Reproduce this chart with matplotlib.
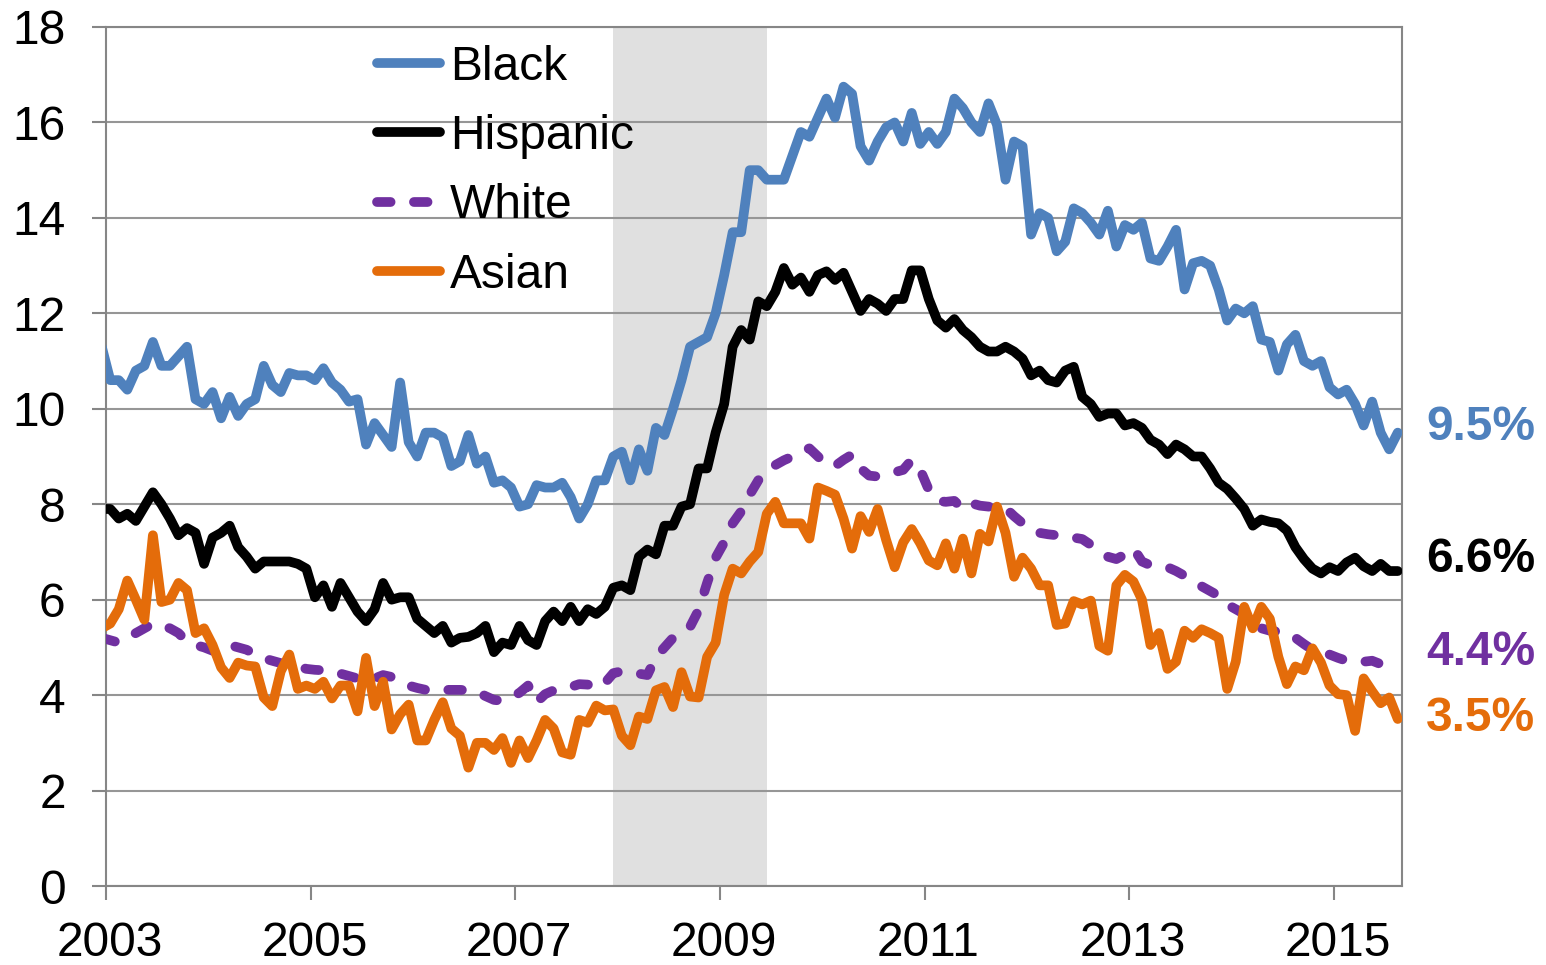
"""
Unemployment rate by race/ethnicity, monthly Dec 2002 - Aug 2015
Recession (Dec 2007 - Jun 2009) shaded
"""

import matplotlib
matplotlib.use('Agg')
import matplotlib.pyplot as plt
import matplotlib.transforms as mtransforms
import numpy as np
import pandas as pd

plt.rcParams['font.family'] = ['Liberation Sans', 'DejaVu Sans']

# Monthly data, Dec 2002 .. Aug 2015
first_month = '2002-12'
last_month = '2015-08'
recession_start = '2007-12'
recession_end = '2009-06'

black = [
    11.3,
    10.6, 10.6, 10.4, 10.8, 10.9, 11.4, 10.9, 10.9, 11.1, 11.3, 10.2, 10.1,
    10.35, 9.8, 10.25, 9.85, 10.1, 10.2, 10.9, 10.5, 10.35, 10.75, 10.7, 10.7,
    10.6, 10.85, 10.55, 10.4, 10.15, 10.2, 9.25, 9.7, 9.45, 9.2, 10.55, 9.3,
    9.0, 9.5, 9.5, 9.4, 8.8, 8.9, 9.45, 8.85, 9.0, 8.45, 8.5, 8.35,
    7.95, 8.0, 8.4, 8.35, 8.35, 8.45, 8.15, 7.7, 8.0, 8.5, 8.5, 9.0,
    9.1, 8.5, 9.15, 8.7, 9.6, 9.45, 10.0, 10.6, 11.3, 11.4, 11.5, 12.0,
    12.8, 13.7, 13.7, 15.0, 15.0, 14.8, 14.8, 14.8, 15.3, 15.8, 15.7, 16.1,
    16.5, 16.1, 16.75, 16.6, 15.5, 15.2, 15.6, 15.9, 16.0, 15.6, 16.2, 15.55,
    15.8, 15.55, 15.8, 16.5, 16.3, 16.0, 15.8, 16.4, 15.95, 14.8, 15.6, 15.5,
    13.65, 14.1, 14.0, 13.3, 13.5, 14.2, 14.1, 13.9, 13.65, 14.15, 13.4, 13.85,
    13.75, 13.9, 13.15, 13.1, 13.4, 13.75, 12.5, 13.05, 13.1, 13.0, 12.5, 11.85,
    12.1, 12.0, 12.15, 11.45, 11.4, 10.8, 11.35, 11.55, 11.0, 10.9, 11.0, 10.45,
    10.3, 10.4, 10.1, 9.65, 10.15, 9.5, 9.15, 9.5,
]

hispanic = [
    7.9,
    7.9, 7.7, 7.8, 7.65, 7.95, 8.25, 8.0, 7.7, 7.35, 7.5, 7.4, 6.75,
    7.3, 7.4, 7.55, 7.1, 6.9, 6.65, 6.8, 6.8, 6.8, 6.8, 6.75, 6.65,
    6.05, 6.3, 5.85, 6.35, 6.05, 5.75, 5.55, 5.8, 6.35, 6.0, 6.05, 6.05,
    5.6, 5.45, 5.3, 5.45, 5.1, 5.2, 5.22, 5.3, 5.45, 4.9, 5.1, 5.05,
    5.45, 5.15, 5.05, 5.55, 5.75, 5.55, 5.85, 5.55, 5.8, 5.7, 5.85, 6.25,
    6.3, 6.2, 6.9, 7.05, 6.95, 7.55, 7.55, 7.95, 8.0, 8.75, 8.75, 9.5,
    10.1, 11.3, 11.65, 11.45, 12.25, 12.15, 12.45, 12.95, 12.6, 12.75, 12.45, 12.8,
    12.88, 12.7, 12.85, 12.45, 12.05, 12.3, 12.2, 12.05, 12.3, 12.3, 12.9, 12.9,
    12.3, 11.85, 11.7, 11.88, 11.65, 11.5, 11.3, 11.2, 11.2, 11.3, 11.2, 11.05,
    10.7, 10.8, 10.6, 10.55, 10.8, 10.88, 10.25, 10.1, 9.83, 9.9, 9.9, 9.65,
    9.7, 9.6, 9.35, 9.25, 9.05, 9.25, 9.15, 9.0, 9.0, 8.75, 8.45, 8.32,
    8.12, 7.9, 7.55, 7.68, 7.63, 7.6, 7.45, 7.1, 6.85, 6.65, 6.55, 6.68,
    6.6, 6.78, 6.88, 6.7, 6.6, 6.75, 6.6, 6.6,
]

white = [
    5.2,
    5.15, 5.1, 5.2, 5.3, 5.4, 5.5, 5.45, 5.4, 5.3, 5.12, 5.05, 5.0,
    4.93, 4.95, 5.05, 5.0, 4.95, 4.85, 4.77, 4.72, 4.67, 4.62, 4.6, 4.55,
    4.53, 4.52, 4.5, 4.45, 4.4, 4.35, 4.32, 4.35, 4.42, 4.38, 4.3, 4.2,
    4.15, 4.11, 4.1, 4.11, 4.11, 4.11, 4.1, 4.07, 3.98, 3.9, 3.88, 3.95,
    4.05, 4.2, 3.85, 4.02, 4.1, 4.11, 4.17, 4.23, 4.22, 4.14, 4.25, 4.46,
    4.5, 4.49, 4.45, 4.42, 4.8, 5.0, 5.2, 5.32, 5.43, 5.78, 6.35, 6.88,
    7.2, 7.6, 7.85, 8.2, 8.5, 8.7, 8.82, 8.92, 9.0, 9.12, 9.17, 9.0,
    8.82, 8.8, 8.93, 9.04, 8.75, 8.6, 8.58, 8.62, 8.67, 8.72, 8.93, 8.72,
    8.3, 8.07, 8.05, 8.07, 7.9, 8.02, 7.97, 7.95, 7.93, 7.92, 7.75, 7.6,
    7.45, 7.4, 7.37, 7.35, 7.32, 7.3, 7.27, 7.15, 7.0, 6.9, 6.85, 6.95,
    7.08, 6.8, 6.72, 6.7, 6.68, 6.6, 6.5, 6.38, 6.28, 6.18, 6.08, 5.9,
    5.8, 5.7, 5.5, 5.4, 5.35, 5.33, 5.3, 5.2, 5.07, 4.95, 4.9, 4.85,
    4.78, 4.72, 4.7, 4.7, 4.72, 4.65, 4.55, 4.45,
]

asian = [
    5.4,
    5.5, 5.8, 6.4, 6.0, 5.58, 7.35, 5.95, 6.0, 6.35, 6.2, 5.3, 5.4,
    5.05, 4.58, 4.36, 4.68, 4.62, 4.6, 3.95, 3.77, 4.5, 4.85, 4.13, 4.2,
    4.13, 4.28, 3.93, 4.2, 4.2, 3.66, 4.78, 3.77, 4.28, 3.28, 3.6, 3.8,
    3.05, 3.05, 3.48, 3.85, 3.3, 3.15, 2.48, 3.0, 3.0, 2.85, 3.1, 2.58,
    3.05, 2.68, 3.05, 3.48, 3.3, 2.8, 2.75, 3.48, 3.42, 3.78, 3.68, 3.7,
    3.15, 2.95, 3.55, 3.5, 4.1, 4.17, 3.75, 4.48, 3.97, 3.95, 4.8, 5.1,
    6.1, 6.65, 6.55, 6.8, 7.0, 7.8, 8.05, 7.6, 7.6, 7.6, 7.28, 8.35,
    8.28, 8.2, 7.7, 7.07, 7.75, 7.42, 7.9, 7.25, 6.68, 7.2, 7.48, 7.18,
    6.82, 6.72, 7.18, 6.65, 7.28, 6.55, 7.38, 7.22, 7.95, 7.4, 6.48, 6.88,
    6.65, 6.3, 6.3, 5.47, 5.5, 5.97, 5.9, 5.98, 5.03, 4.93, 6.3, 6.52,
    6.38, 6.0, 5.05, 5.3, 4.55, 4.7, 5.35, 5.2, 5.38, 5.3, 5.2, 4.13,
    4.7, 5.85, 5.4, 5.85, 5.6, 4.8, 4.23, 4.6, 4.52, 4.98, 4.68, 4.2,
    4.02, 4.0, 3.25, 4.35, 4.08, 3.83, 3.95, 3.5,
]

labels = ['Black', 'Hispanic', 'White', 'Asian']
end_labels = ['9.5%', '6.6%', '4.4%', '3.5%']
end_label_y = [9.6, 6.85, 4.9, 3.5]
colors = ['#4F81BD', '#000000', '#7030A0', '#E46C0A']

FS = 34.5


def month_pos(periods):
    # each month sits in the middle of its slot on the date axis
    return periods.year + (periods.month - 1 + 0.5) / 12.0


months = pd.period_range(first_month, last_month, freq='M')
x = month_pos(months)
rec = month_pos(pd.PeriodIndex([recession_start, recession_end], freq='M'))

fig = plt.figure(figsize=(15.46, 9.65), dpi=100)
ax = fig.add_axes([106 / 1546, 1 - 886 / 965, 1296 / 1546, 859 / 965])

ax.axvspan(rec[0], rec[1], color='#E0E0E0', lw=0, zorder=0)

series = [black, hispanic, white, asian]
for vals, lab, col in zip(series, labels, colors):
    kw = dict(color=col, lw=7, label=lab, solid_joinstyle='round',
              solid_capstyle='round', zorder=3)
    if lab == 'White':
        kw.update(dashes=(1.4, 2.4), dash_capstyle='round',
                  dash_joinstyle='round')
    ax.plot(x, vals, **kw)

for txt, yv, col in zip(end_labels, end_label_y, colors):
    ax.text(1.0185, yv, txt, transform=ax.get_yaxis_transform(),
            color=col, fontsize=FS, fontweight='bold', ha='left', va='center')

ax.set_xlim(2003, 2003 + len(months[1:]) / 12.0)
ax.set_ylim(0, 18)
ax.set_yticks(np.arange(0, 19, 2))
ax.set_xticks(np.arange(2003, 2016, 2))
ax.tick_params(axis='both', labelsize=FS, colors='#868686', labelcolor='black',
               length=10, width=1.5, direction='out')
ax.tick_params(axis='y', pad=19)
ax.tick_params(axis='x', pad=15)

# year labels sit a few pixels right of their ticks in the original
shift = mtransforms.ScaledTranslation(4 / 100, 0, fig.dpi_scale_trans)
for lbl in ax.get_xticklabels():
    lbl.set_transform(lbl.get_transform() + shift)

ax.set_axisbelow(True)
ax.grid(axis='y', color='#969696', lw=1.5)
ax.grid(axis='x', visible=False)
for side in ['left', 'right', 'bottom', 'top']:
    ax.spines[side].set_color('#868686')
    ax.spines[side].set_linewidth(1.5)

ax.legend(loc='upper left', bbox_to_anchor=(0.209, 0.9795), frameon=False,
          fontsize=FS, handlelength=1.32, handletextpad=0.2,
          labelspacing=0.51, borderpad=0, borderaxespad=0)

plt.savefig('out.png', dpi=100)
